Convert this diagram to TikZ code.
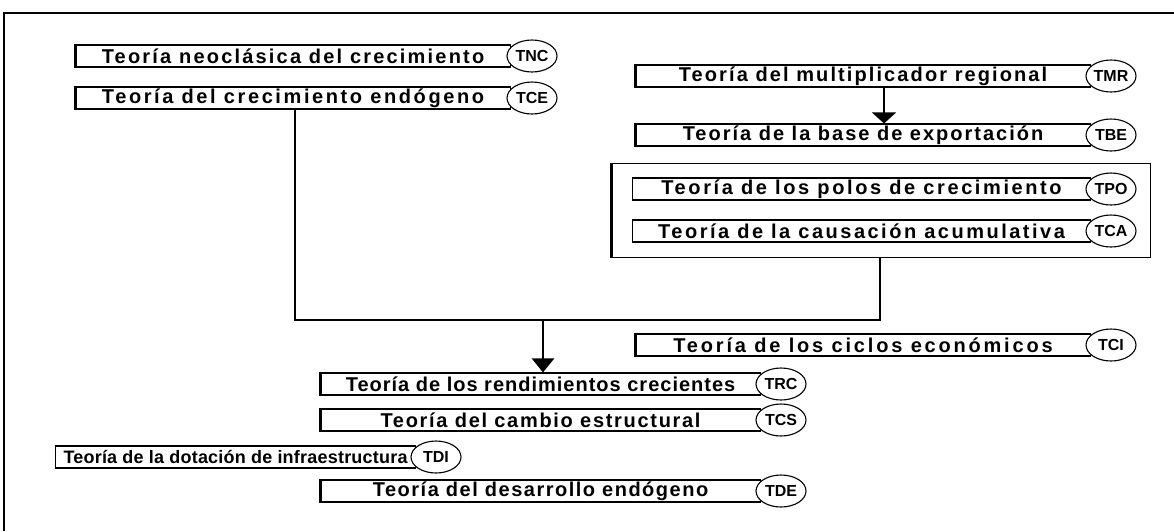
\documentclass[tikz,border=0pt]{standalone}
\usepackage{fontspec}
\setmainfont{Liberation Sans}
\newfontfamily\boxfont{Liberation Sans}[LetterSpace=12]
\usetikzlibrary{arrows.meta,shapes.geometric}
\newcommand\leftbar[1]{\draw[line width=2.5pt] ([xshift=0.6pt]#1.north west) -- ([xshift=0.6pt]#1.south west);
  \draw[line width=1.6pt] (#1.south west) -- (#1.south east);}
\begin{document}
\begin{tikzpicture}[x=1pt,y=-1pt,
  tbox/.style={draw, line width=1.1pt, minimum height=22pt, inner sep=0pt, anchor=west, fill=white,
    font=\boxfont\fontsize{20}{22}\selectfont\bfseries},
  ls/.style={font=\boxfont\addfontfeatures{LetterSpace=#1}\fontsize{20}{22}\selectfont\bfseries},
  tight/.style={font=\boxfont\addfontfeatures{LetterSpace=1.2}\fontsize{18}{20}\selectfont\bfseries},
  tab/.style={ellipse, draw, line width=1.1pt, fill=white, minimum width=50pt, minimum height=32pt, inner sep=0pt,
    font=\fontsize{16}{18}\selectfont\bfseries},
  conn/.style={line width=1.3pt},
  ]
\useasboundingbox (0,0) rectangle (1174,531);
\draw[line width=2pt] (4,531) -- (4,13) -- (1174,13);

% left column
\node[tbox, ls=11, minimum width=435pt] (tnc) at (75,56) {Teoría neoclásica del crecimiento};
\leftbar{tnc}
\node[tab] (tncE) at (532,56) {TNC};
\node[tbox, ls=13, minimum width=435pt] (tce) at (75,98) {Teoría del crecimiento endógeno};
\leftbar{tce}
\node[tab] (tceE) at (532,98) {TCE};

% right column
\node[tbox, ls=10.5, minimum width=455pt] (tmr) at (635,76) {Teoría del multiplicador regional};
\leftbar{tmr}
\node[tab] (tmrE) at (1111,76) {TMR};
\node[tbox, ls=10, minimum width=455pt] (tbe) at (635,135) {Teoría de la base de exportación};
\leftbar{tbe}
\node[tab] (tbeE) at (1111,135) {TBE};

\node[draw, line width=1pt, minimum width=539pt, minimum height=94pt, inner sep=0pt, anchor=north west] (grp) at (611,163) {};
\draw[line width=2.5pt] ([xshift=0.6pt]grp.north west) -- ([xshift=0.6pt]grp.south west);
\node[tbox, ls=13, minimum width=458pt] (tpo) at (632,189) {Teoría de los polos de crecimiento};
\node[tab] (tpoE) at (1111,189) {TPO};
\node[tbox, ls=12.5, minimum width=458pt] (tca) at (632,231) {Teoría de la causación acumulativa};
\node[tab] (tcaE) at (1111,231) {TCA};

\node[tbox, ls=14, minimum width=455pt] (tci) at (635,345) {Teoría de los ciclos económicos};
\leftbar{tci}
\node[tab] (tciE) at (1111,345) {TCI};

% bottom
\node[tbox, ls=5, minimum width=440pt] (trc) at (320,384) {Teoría de los rendimientos crecientes};
\leftbar{trc}
\node[tab] (trcE) at (781,384) {TRC};
\node[tbox, ls=8.5, minimum width=440pt] (tcs) at (320,420) {Teoría del cambio estructural};
\leftbar{tcs}
\node[tab] (tcsE) at (781,420) {TCS};
\node[tbox, tight, minimum width=360pt] (tdi) at (55,457) {Teoría de la dotación de infraestructura};
\node[tab] (tdiE) at (436,457) {TDI};
\node[tbox, ls=7.5, minimum width=440pt] (tde) at (320,491) {Teoría del desarrollo endógeno};
\leftbar{tde}
\node[tab] (tdeE) at (781,491) {TDE};

% connectors
\coordinate (ax) at (884,0);
\draw[conn, -{Triangle[width=24pt,length=11pt]}] (tmr.south -| ax) -- (tbe.north -| ax);
\coordinate (j) at (543,320);
\draw[line width=2pt] (tce.south west) ++(220,0) |- (j);
\draw[conn] (grp.south west) ++(269,0) |- (j);
\draw[line width=2.5pt, -{Triangle[width=22pt,length=14pt]}] (j) -- (trc.north -| j);
\end{tikzpicture}
\end{document}
